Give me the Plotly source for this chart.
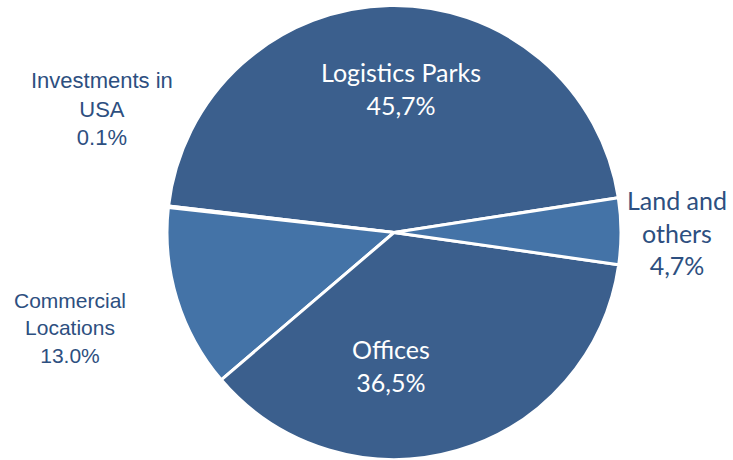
import plotly.graph_objects as go

# Portfolio split by segment (share of total, %)
segments = ["Logistics Parks", "Investments in USA", "Commercial Locations", "Offices", "Land and others"]
shares = [45.7, 0.1, 13.0, 36.5, 4.7]
share_labels = ["45,7%", "0.1%", "13.0%", "36,5%", "4,7%"]
slice_colors = ["#3b5f8d", "#3b5f8d", "#4473a7", "#3b5f8d", "#4473a7"]

W, H = 733, 460
cx, cy, r = 394.0, 232.5, 227.0

fig = go.Figure(go.Pie(
    labels=segments,
    values=shares,
    sort=False,
    direction="counterclockwise",
    rotation=-83.3,
    textinfo="none",
    hoverinfo="label+percent",
    marker=dict(colors=slice_colors, line=dict(color="white", width=3)),
    domain=dict(x=[(cx - r) / W, (cx + r) / W],
                y=[(H - cy - r) / H, (H - cy + r) / H]),
    showlegend=False,
))

inner_font = dict(family="Lato, Open Sans, sans-serif", size=25, color="white")
land_font = dict(family="Lato, Open Sans, sans-serif", size=25, color="#2d4f80")
outer_font_a = dict(family="Liberation Sans, Arial, sans-serif", size=22, color="#2d4f80")
outer_font_b = dict(family="Liberation Sans, Arial, sans-serif", size=21, color="#2d4f80")

labels = [
    (401, 88, f"{segments[0]}<br>{share_labels[0]}", inner_font),
    (391, 365, f"{segments[3]}<br>{share_labels[3]}", inner_font),
    (677, 233, f"Land and<br>others<br>{share_labels[4]}", land_font),
    (102, 109, f"Investments in<br>USA<br>{share_labels[1]}", outer_font_a),
    (70, 328, f"Commercial<br>Locations<br>{share_labels[2]}", outer_font_b),
]
for x, y, text, font in labels:
    fig.add_annotation(x=x / W, y=1 - y / H, xref="paper", yref="paper",
                       text=text, showarrow=False, font=font,
                       xanchor="center", yanchor="middle", align="center")

fig.update_layout(width=W, height=H, margin=dict(l=0, r=0, t=0, b=0),
                  paper_bgcolor="white", plot_bgcolor="white")
fig.write_html("out.html")
